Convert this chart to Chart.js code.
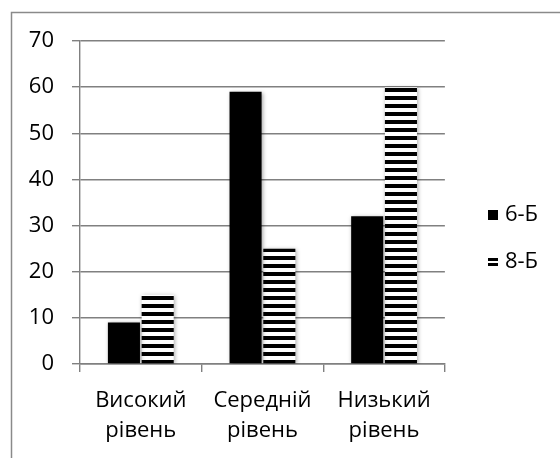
<!DOCTYPE html>
<html>
<head>
<meta charset="utf-8">
<script src="https://cdn.jsdelivr.net/npm/chart.js@4.4.1/dist/chart.umd.min.js"></script>
<style>
  body { margin: 0; background: #fff; }
  #wrap { width: 560px; height: 458px; }
</style>
</head>
<body>
<div id="wrap"><canvas id="mycanvas" width="560" height="458"></canvas></div>
<script>
var categories = [['Високий', 'рівень'], ['Середній', 'рівень'], ['Низький', 'рівень']];
var seriesNames = ['6-Б', '8-Б'];
var values6B = [9, 59, 32];
var values8B = [15, 25, 60];
var yMin = 0, yMax = 70, yStep = 10;

var FONT = { family: "'Open Sans', 'DejaVu Sans', sans-serif", size: 22, lineHeight: 1.36 };
var GRID = '#808080';

// horizontal stripe pattern for 8-Б
function stripePattern() {
  var c = document.createElement('canvas');
  c.width = 8; c.height = 8;
  var g = c.getContext('2d');
  g.fillStyle = '#fff';
  g.fillRect(0, 0, 8, 8);
  g.fillStyle = '#000';
  g.fillRect(0, 0, 8, 4);
  return document.getElementById('mycanvas').getContext('2d').createPattern(c, 'repeat');
}

// small legend markers
function marker(striped) {
  var c = document.createElement('canvas');
  c.width = 10; c.height = 10;
  var g = c.getContext('2d');
  g.fillStyle = '#000';
  if (striped) {
    g.fillRect(0, 1, 10, 3);
    g.fillRect(0, 6, 10, 3);
  } else {
    g.fillRect(0, 0, 10, 10);
  }
  return c;
}
var markers = [marker(false), marker(true)];

var frame = {
  id: 'frame',
  beforeDraw: function(chart) {
    var ctx = chart.ctx;
    ctx.save();
    ctx.strokeStyle = '#8a8a8a';
    ctx.lineWidth = 1.5;
    ctx.strokeRect(11.5, 12.5, 600, 500);
    ctx.restore();
  }
};

var barShadow = {
  id: 'barShadow',
  beforeDatasetsDraw: function(chart) {
    var ctx = chart.ctx;
    ctx.save();
    ctx.shadowColor = 'rgba(0,0,0,0.35)';
    ctx.shadowBlur = 4;
    ctx.shadowOffsetX = 1;
    ctx.shadowOffsetY = 1;
  },
  afterDatasetsDraw: function(chart) {
    chart.ctx.restore();
  }
};

var chartdata = {
  labels: categories,
  datasets: [
    {
      label: seriesNames[0],
      data: values6B,
      backgroundColor: '#000',
      borderWidth: 0,
      categoryPercentage: 0.555,
      barPercentage: 0.95
    },
    {
      label: seriesNames[1],
      data: values8B,
      backgroundColor: stripePattern(),
      borderWidth: 0,
      categoryPercentage: 0.555,
      barPercentage: 0.95
    }
  ]
};

var ctx = document.getElementById('mycanvas');

// empty spacer axes, only there to place the plot area and legend
var spacer = function(w, h) {
  return {
    type: 'linear',
    display: true,
    grid: { display: false },
    border: { display: false },
    ticks: { display: false },
    afterFit: function(s) {
      if (w !== null) s.width = w;
      if (h !== null) s.height = h;
    }
  };
};

var padRight = spacer(22, null);
padRight.position = 'right';
var padTop = spacer(null, 22);
padTop.position = 'top';

var BarGraph = new Chart(ctx, {
  type: 'bar',
  data: chartdata,
  plugins: [frame, barShadow],
  options: {
    responsive: false,
    animation: false,
    layout: { padding: { left: 0, top: 19, right: 12, bottom: 0 } },
    plugins: {
      tooltip: { enabled: false },
      legend: {
        position: 'right',
        labels: {
          usePointStyle: true,
          boxWidth: 2,
          boxHeight: 10,
          padding: 25,
          color: '#000',
          font: FONT,
          generateLabels: function(chart) {
            var items = Chart.defaults.plugins.legend.labels.generateLabels(chart);
            items.forEach(function(it, i) { it.pointStyle = markers[i]; });
            return items;
          }
        }
      }
    },
    scales: {
      x: {
        grid: { offset: true, drawOnChartArea: false, drawTicks: true, tickLength: 8, color: GRID, lineWidth: 1.4 },
        border: { display: true, color: GRID, width: 1.4 },
        ticks: { color: '#000', font: FONT, padding: 14, maxRotation: 0 },
        afterFit: function(s) { s.height = 94; }
      },
      y: {
        min: yMin,
        max: yMax,
        ticks: { stepSize: yStep, color: '#000', font: FONT, padding: 18 },
        grid: { color: GRID, lineWidth: 1.4, tickLength: 8 },
        border: { display: true, color: GRID, width: 1.4 },
        afterFit: function(s) { s.width = 80; }
      },
      padRight: padRight,
      padTop: padTop
    }
  }
});
</script>
</body>
</html>
